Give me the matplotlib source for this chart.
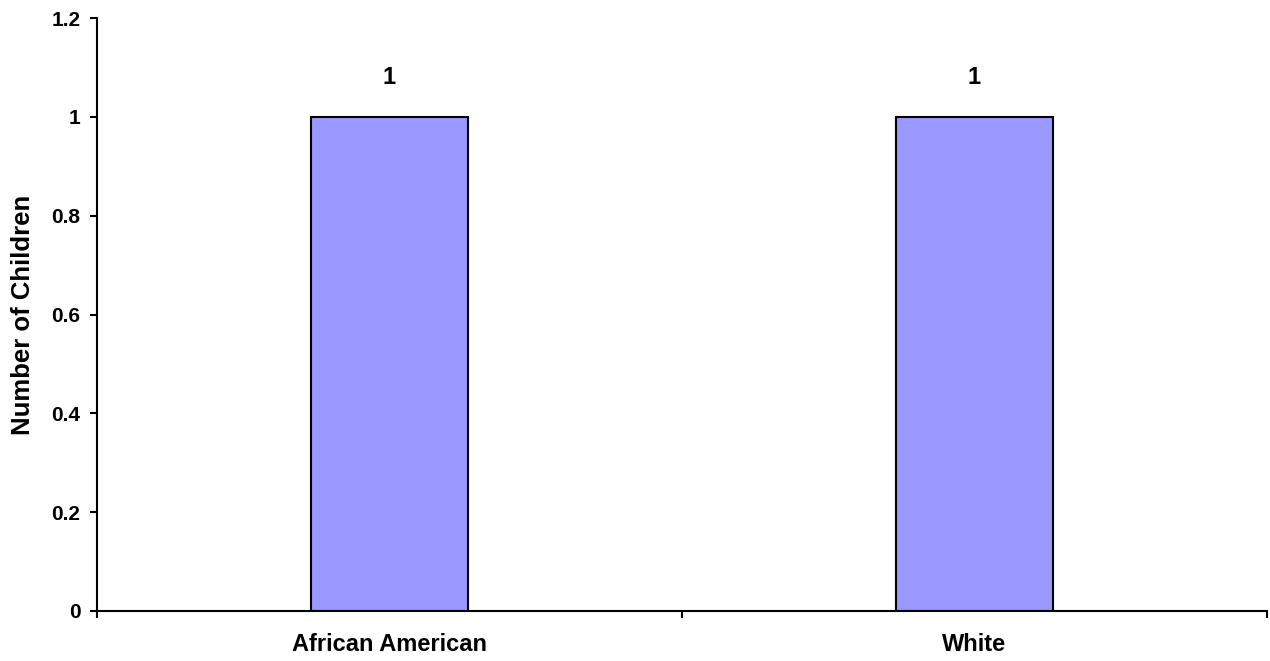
import numpy as np
import matplotlib
matplotlib.use("Agg")
import matplotlib.pyplot as plt

categories = ["African American", "White"]
counts = [1, 1]
yticks = [0, 0.2, 0.4, 0.6, 0.8, 1, 1.2]
ylabels = ["0", "0.2", "0.4", "0.6", "0.8", "1", "1.2"]

plt.rcParams['font.family'] = ['Liberation Sans', 'DejaVu Sans']
plt.rcParams['font.weight'] = 'bold'

fig = plt.figure(figsize=(12.7, 6.61), dpi=100)
ax = fig.add_axes([97/1270, 50/661, 1170/1270, 593/661])

x = np.arange(len(categories))
bars = ax.bar(x, counts, width=0.267, color='#9999FF', edgecolor='black', linewidth=1.5)

# value labels above the bars
for xi, v in zip(x, counts):
    ax.text(xi, v + 0.067, str(v), ha='center', va='baseline', fontsize=17, fontweight='bold')

ax.set_xlim(-0.5, 1.5)
ax.set_ylim(0, 1.2)
ax.set_yticks(yticks)
ax.set_yticklabels(ylabels, fontsize=15, fontweight='bold')

# category boundaries get the tick marks, names sit in between
ax.set_xticks([-0.5, 0.5, 1.5])
ax.set_xticklabels([])
ax.set_xticks(x, minor=True)
ax.set_xticklabels(categories, minor=True, fontsize=17, fontweight='bold')
ax.tick_params(axis='x', which='minor', length=0, pad=16)
ax.tick_params(axis='x', which='major', direction='out', length=5, width=1.5)
ax.tick_params(axis='y', direction='out', length=5, width=1.5, pad=7)

ax.spines['top'].set_visible(False)
ax.spines['right'].set_visible(False)
ax.spines['left'].set_linewidth(1.5)
ax.spines['bottom'].set_linewidth(1.5)

ax.set_ylabel("Number of Children", fontsize=18.5, fontweight='bold')
ax.yaxis.set_label_coords(-0.063, 0.5)
ax.yaxis.label.set_va('center')

fig.savefig("out.png", dpi=100)
